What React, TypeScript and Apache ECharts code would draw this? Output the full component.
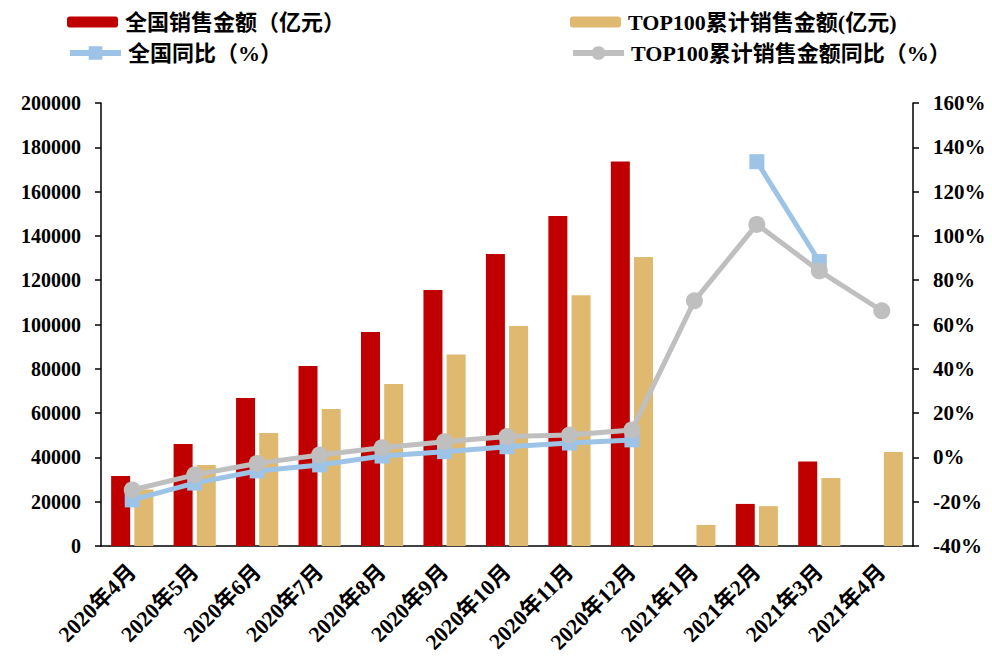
import React, { useEffect, useRef } from "react";
import * as echarts from "echarts";

const categories = [
  "2020年4月", "2020年5月", "2020年6月", "2020年7月", "2020年8月", "2020年9月",
  "2020年10月", "2020年11月", "2020年12月", "2021年1月", "2021年2月", "2021年3月", "2021年4月",
];
const nationalSales = [31600, 46000, 66800, 81300, 96600, 115600, 131800, 149000, 173600, null, 19000, 38200, null];
const top100Sales = [25500, 36600, 51000, 61900, 73100, 86500, 99300, 113200, 130500, 9500, 18000, 30700, 42400];
const nationalYoY = [-19.2, -11.6, -6.1, -3.4, 0.6, 2.6, 4.8, 6.5, 7.9, null, 133.5, 88.4, null];
const top100YoY = [-14.7, -7.9, -2.7, 1.1, 4.4, 7.1, 9.4, 10.1, 12.4, 70.7, 105.2, 84.2, 66.2];

const names = ["全国销售金额（亿元）", "TOP100累计销售金额(亿元)", "全国同比（%）", "TOP100累计销售金额同比（%）"];
const colors = ["#C00000", "#E0B971", "#9DC3E6", "#BFBFBF"];

const FONT = '"Times New Roman", "Liberation Serif", "Noto Sans CJK SC", serif';

export default function App() {
  const ref = useRef<HTMLDivElement>(null);
  useEffect(() => {
    if (!ref.current) return;
    const chart = echarts.init(ref.current, null, { renderer: "svg" });
    const legendText = { fontFamily: FONT, fontWeight: "bold", fontSize: 22, color: "#000", padding: [0, 0, 0, 2] };
    const mkLegend = (name: string, left: number, top: number, isLine: boolean) => ({
      show: true,
      left,
      top,
      padding: 0,
      itemWidth: 51,
      itemHeight: isLine ? 17 : 11,
      itemGap: 0,
      textStyle: legendText,
      lineStyle: isLine ? { width: 6 } : undefined,
      data: [name],
      selectedMode: false,
    });
    const axisLabel = { fontFamily: FONT, fontWeight: "bold", fontSize: 20, color: "#000" };
    chart.setOption({
      animation: false,
      backgroundColor: "#fff",
      textStyle: { fontFamily: FONT },
      legend: [
        mkLegend(names[0], 67, 11, false),
        mkLegend(names[2], 67, 42, true),
        mkLegend(names[1], 570, 11, false),
        mkLegend(names[3], 570, 42, true),
      ],
      grid: { left: 101, right: 79, top: 103, bottom: 114, containLabel: false },
      xAxis: {
        type: "category",
        data: categories,
        axisLine: { lineStyle: { color: "#000", width: 1.5 } },
        axisTick: { show: false },
        axisLabel: { ...axisLabel, fontSize: 22, rotate: 45, margin: 22, interval: 0 },
      },
      yAxis: [
        {
          type: "value",
          min: 0,
          max: 200000,
          interval: 20000,
          splitLine: { show: false },
          axisLine: { show: true, lineStyle: { color: "#000", width: 1.5 } },
          axisTick: { show: true, length: 6, lineStyle: { color: "#000", width: 1.5 } },
          axisLabel: { ...axisLabel, margin: 20, formatter: (v: number) => String(v) },
        },
        {
          type: "value",
          min: -40,
          max: 160,
          interval: 20,
          position: "right",
          splitLine: { show: false },
          axisLine: { show: true, lineStyle: { color: "#000", width: 1.5 } },
          axisTick: { show: true, length: 6, lineStyle: { color: "#000", width: 1.5 } },
          axisLabel: { ...axisLabel, fontSize: 21, margin: 20, formatter: "{value}%" },
        },
      ],
      series: [
        {
          name: names[0],
          type: "bar",
          data: nationalSales,
          barWidth: 19,
          barGap: "22%",
          itemStyle: { color: colors[0] },
        },
        {
          name: names[1],
          type: "bar",
          data: top100Sales,
          barWidth: 19,
          barGap: "22%",
          itemStyle: { color: colors[1] },
        },
        {
          name: names[2],
          type: "line",
          yAxisIndex: 1,
          data: nationalYoY,
          symbol: "rect",
          symbolSize: 15,
          lineStyle: { color: colors[2], width: 5 },
          itemStyle: { color: colors[2] },
          z: 3,
        },
        {
          name: names[3],
          type: "line",
          yAxisIndex: 1,
          data: top100YoY,
          symbol: "circle",
          symbolSize: 17,
          lineStyle: { color: colors[3], width: 5 },
          itemStyle: { color: colors[3] },
          z: 4,
        },
      ],
    });
    return () => chart.dispose();
  }, []);
  return <div ref={ref} style={{ width: 992, height: 660, position: "absolute", left: 0, top: 0 }} />;
}
